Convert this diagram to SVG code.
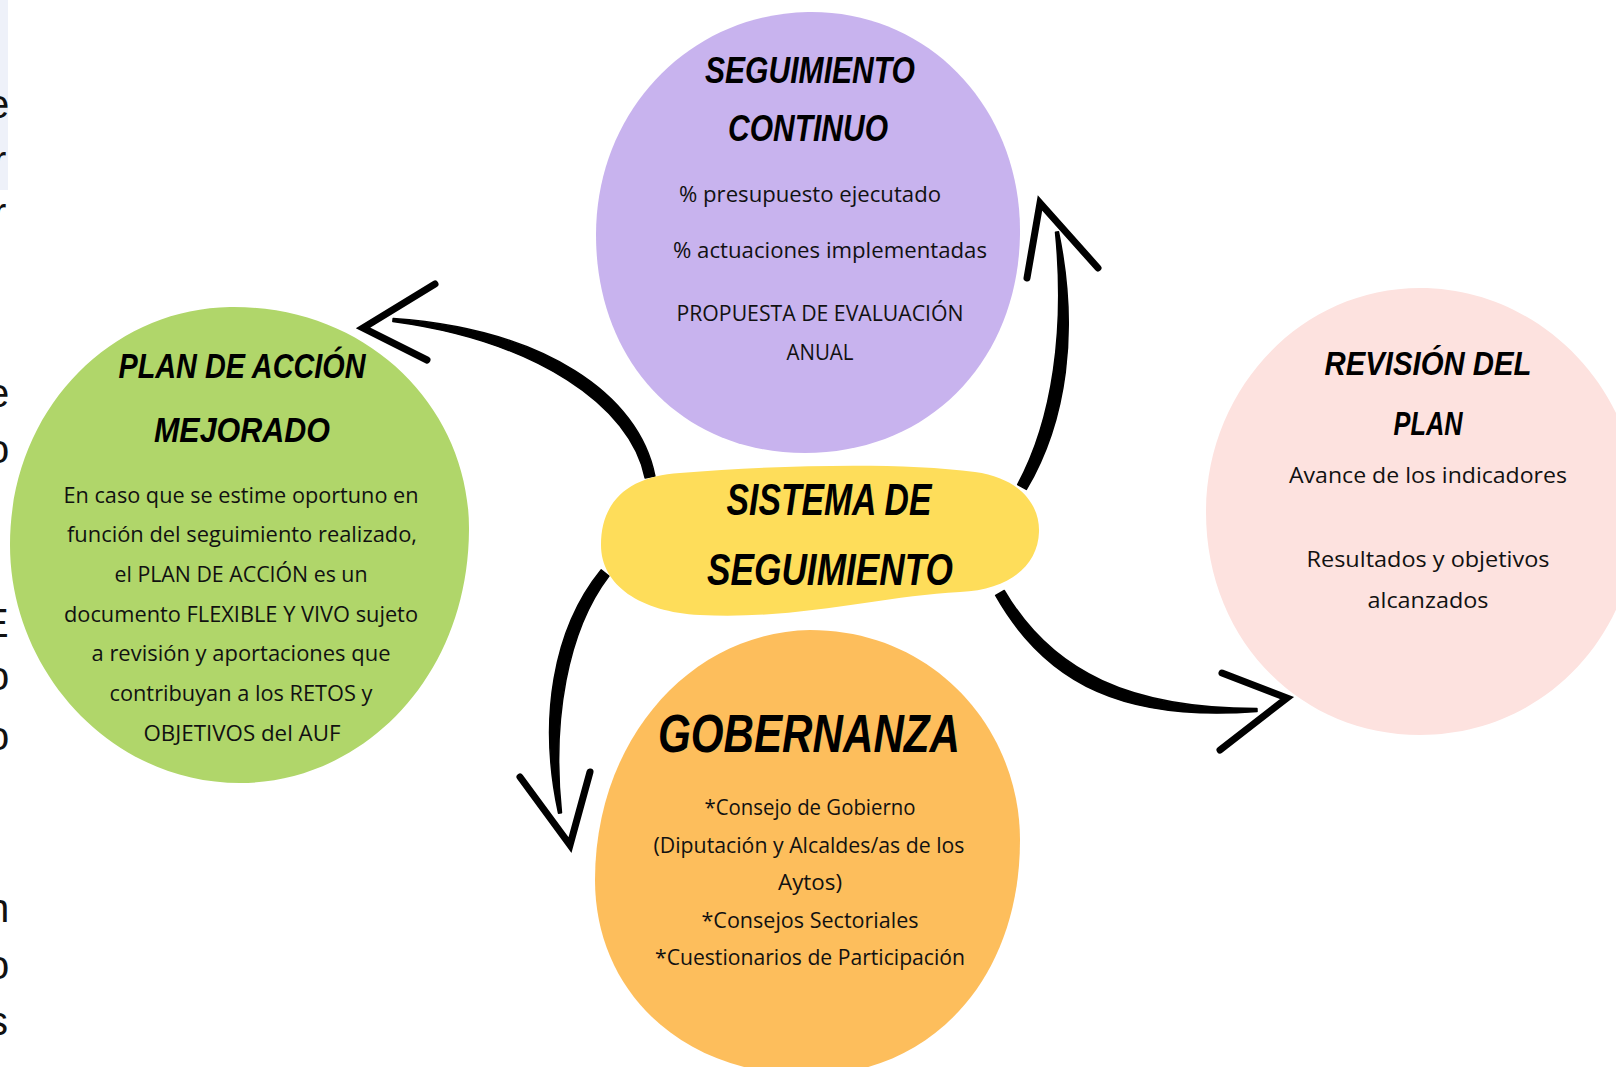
<svg xmlns="http://www.w3.org/2000/svg" width="1616" height="1067" viewBox="0 0 1616 1067">
<style>
.h{font-family:"Liberation Sans",Arial,sans-serif;font-weight:bold;font-style:italic;fill:#000;text-anchor:middle}
.b{font-family:"Open Sans","Liberation Sans",sans-serif;font-size:21px;fill:#111;text-anchor:middle}
.edge{font-family:"Liberation Sans",Arial,sans-serif;font-size:40px;fill:#111}
.shaft{fill:#000;stroke:#000;stroke-width:1.5;stroke-linejoin:round}
.head{fill:none;stroke:#000;stroke-width:7;stroke-linecap:round;stroke-linejoin:miter;stroke-miterlimit:20}
</style>
<rect width="1616" height="1067" fill="#fff"/>
<rect x="0" y="0" width="8" height="190" fill="#eef1f9"/>
<g id="edge-text">
<text class="edge" x="-13" y="118">e</text>
<text class="edge" x="-7" y="174">r</text>
<text class="edge" x="-7" y="226">r</text>
<text class="edge" x="-13" y="407">e</text>
<text class="edge" x="-13" y="463">o</text>
<text class="edge" x="-18" y="637">E</text>
<text class="edge" x="-13" y="690">o</text>
<text class="edge" x="-13" y="750">o</text>
<text class="edge" x="-13" y="922">n</text>
<text class="edge" x="-13" y="979">o</text>
<text class="edge" x="-12" y="1035">s</text>
</g>
<g id="node-seguimiento-continuo">
<path d="M808,12 C930,10 1022,110 1020,235 C1018,360 930,453 805,453 C680,453 596,360 596,235 C596,110 690,14 808,12 Z" fill="#c8b3ee"/>
<text class="h" font-size="36" x="810" y="83" textLength="210" lengthAdjust="spacingAndGlyphs">SEGUIMIENTO</text>
<text class="h" font-size="36" x="808" y="141" textLength="160" lengthAdjust="spacingAndGlyphs">CONTINUO</text>
<text class="b" x="810" y="202" textLength="262" lengthAdjust="spacingAndGlyphs">% presupuesto ejecutado</text>
<text class="b" x="830" y="258" textLength="314" lengthAdjust="spacingAndGlyphs">% actuaciones implementadas</text>
<text class="b" x="820" y="321" textLength="287" lengthAdjust="spacingAndGlyphs">PROPUESTA DE EVALUACIÓN</text>
<text class="b" x="820" y="360" textLength="67" lengthAdjust="spacingAndGlyphs">ANUAL</text>
</g>
<g id="node-plan-accion">
<path d="M230,307 C370,305 470,410 469,530 C468,680 360,783 240,783 C110,783 10,670 10,545 C10,410 110,309 230,307 Z" fill="#b0d66a"/>
<text class="h" font-size="35" x="242" y="378" textLength="247" lengthAdjust="spacingAndGlyphs">PLAN DE ACCIÓN</text>
<text class="h" font-size="35" x="242" y="442" textLength="176" lengthAdjust="spacingAndGlyphs">MEJORADO</text>
<text class="b" x="241" y="503" textLength="355" lengthAdjust="spacingAndGlyphs">En caso que se estime oportuno en</text>
<text class="b" x="242" y="542" textLength="350" lengthAdjust="spacingAndGlyphs">función del seguimiento realizado,</text>
<text class="b" x="241" y="582" textLength="253" lengthAdjust="spacingAndGlyphs">el PLAN DE ACCIÓN es un</text>
<text class="b" x="241" y="622" textLength="354" lengthAdjust="spacingAndGlyphs">documento FLEXIBLE Y VIVO sujeto</text>
<text class="b" x="241" y="661" textLength="299" lengthAdjust="spacingAndGlyphs">a revisión y aportaciones que</text>
<text class="b" x="241" y="701" textLength="263" lengthAdjust="spacingAndGlyphs">contribuyan a los RETOS y</text>
<text class="b" x="242" y="741" textLength="197" lengthAdjust="spacingAndGlyphs">OBJETIVOS del AUF</text>
</g>
<g id="node-revision">
<path d="M1420,288 C1540,288 1640,390 1638,512 C1636,640 1540,735 1420,735 C1300,735 1206,640 1206,512 C1206,390 1300,288 1420,288 Z" fill="#fde2df"/>
<text class="h" font-size="34" x="1428" y="375" textLength="207" lengthAdjust="spacingAndGlyphs">REVISIÓN DEL</text>
<text class="h" font-size="34" x="1428" y="435" textLength="69" lengthAdjust="spacingAndGlyphs">PLAN</text>
<text class="b" x="1428" y="483" textLength="278" lengthAdjust="spacingAndGlyphs">Avance de los indicadores</text>
<text class="b" x="1428" y="567" textLength="243" lengthAdjust="spacingAndGlyphs">Resultados y objetivos</text>
<text class="b" x="1428" y="608" textLength="121" lengthAdjust="spacingAndGlyphs">alcanzados</text>
</g>
<g id="node-gobernanza">
<path d="M810,630 C935,630 1020,730 1020,840 C1020,980 930,1075 810,1075 C680,1075 595,990 595,880 C595,740 690,632 810,630 Z" fill="#fdbe5c"/>
<text class="h" font-size="54" x="809" y="752" textLength="302" lengthAdjust="spacingAndGlyphs">GOBERNANZA</text>
<text class="b" x="810" y="815" textLength="211" lengthAdjust="spacingAndGlyphs">*Consejo de Gobierno</text>
<text class="b" x="809" y="853" textLength="311" lengthAdjust="spacingAndGlyphs">(Diputación y Alcaldes/as de los</text>
<text class="b" x="810" y="890" textLength="64" lengthAdjust="spacingAndGlyphs">Aytos)</text>
<text class="b" x="810" y="928" textLength="217" lengthAdjust="spacingAndGlyphs">*Consejos Sectoriales</text>
<text class="b" x="810" y="965" textLength="310" lengthAdjust="spacingAndGlyphs">*Cuestionarios de Participación</text>
</g>
<g id="connectors">
<path class="shaft" d="M654.9,476.05 C639,394.2 544,329.2 393.15,318.5 L392.85,321.5 C536,340.8 631,405.8 645.1,477.95 Z"/>
<path class="head" d="M435,284 L363,328 L427,360"/>
<path class="shaft" d="M1026.35,489.45 C1066.9,420.9 1078.9,330.9 1058.5,231.8 L1055.5,232.2 C1065.1,329.1 1053.1,419.1 1017.65,484.55 Z"/>
<path class="head" d="M1027,278 L1040,203 L1098,268"/>
<path class="shaft" d="M995.67,595.49 C1047.19,686.41 1127.19,721.41 1257.06,711.5 L1256.94,708.5 C1132.81,708.59 1052.81,673.59 1004.33,590.51 Z"/>
<path class="head" d="M1222,673 L1287,698 L1220,750"/>
<path class="shaft" d="M601.1,569.9 C553.1,628.85 538.1,718.85 558.5,813.2 L561.5,812.8 C551.9,721.15 566.9,631.15 608.9,576.1 Z"/>
<path class="head" d="M520,777 L570,845 L590,772"/>
</g>
<g id="node-sistema">
<path d="M680,473 C780,465 900,462 975,472 C1020,478 1040,505 1039,532 C1038,565 1010,590 960,592 C880,596 800,620 700,615 C640,612 601,585 601,545 C601,500 630,476 680,473 Z" fill="#fedd5a"/>
<text class="h" font-size="44" x="829" y="515" textLength="205" lengthAdjust="spacingAndGlyphs">SISTEMA DE</text>
<text class="h" font-size="44" x="830" y="585" textLength="246" lengthAdjust="spacingAndGlyphs">SEGUIMIENTO</text>
</g>
</svg>
